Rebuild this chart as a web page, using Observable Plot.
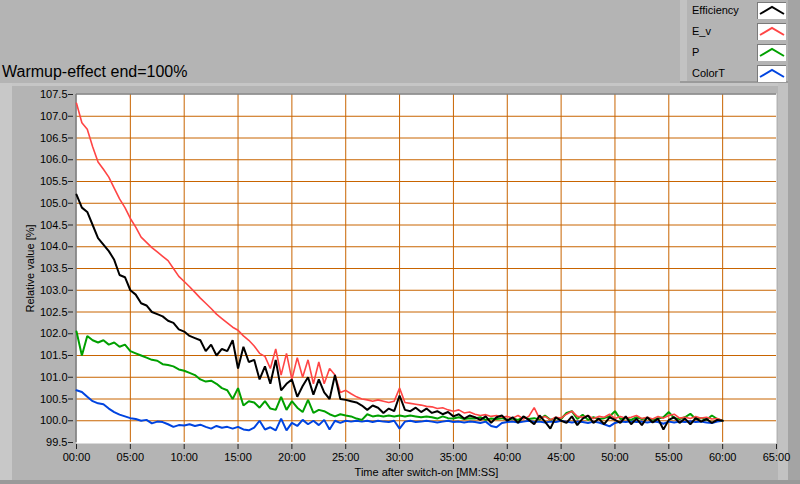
<!DOCTYPE html>
<html>
<head>
<meta charset="utf-8">
<script src="https://cdn.jsdelivr.net/npm/d3@7"></script>
<script src="https://cdn.jsdelivr.net/npm/@observablehq/plot@0.6"></script>
<style>
  body { margin: 0; background: #b4b4b4; }
  #wrap { position: relative; width: 800px; height: 484px; background: #b4b4b4; overflow: hidden; font-family: "Liberation Sans", Arial, sans-serif; }
  .deco { position: absolute; }
  #title { position: absolute; left: 2px; top: 63px; font-size: 16px; color: #000; white-space: nowrap; }
  .lg-text { position: absolute; left: 692px; font-size: 11px; color: #000; }
  .lg-box { position: absolute; left: 757px; width: 28px; height: 16px; background: #fff; border-top: 1px solid #7a7a7a; border-left: 1px solid #7a7a7a; }
  #chart { position: absolute; left: 0; top: 0; }
</style>
</head>
<body>
<div id="wrap">
  <div class="deco" style="left:0;top:83px;width:788px;height:3px;background:#c6c6c6"></div>
  <div class="deco" style="left:0;top:83px;width:12px;height:397px;background:#c8c8c8"></div>
  <div class="deco" style="left:778px;top:83px;width:10px;height:397px;background:#c2c2c2"></div>
  <div class="deco" style="left:788px;top:0;width:12px;height:484px;background:#a4a4a4"></div>
  <div class="deco" style="left:0;top:480px;width:800px;height:4px;background:#9a9a9a"></div>
  <div class="deco" style="left:680px;top:0;width:7px;height:81px;background:#c2c2c2"></div>
  <div class="deco" style="left:680px;top:81px;width:108px;height:2px;background:#9a9a9a"></div>
  <div id="title">Warmup-effect end=100%</div>
  <div id="legend"></div>
  <div id="chart"></div>
</div>
<script>
// ---- data ----
const seriesNames = ["Efficiency", "E_v", "P", "ColorT"];
const seriesColors = ["#000000", "#ff4545", "#00a000", "#0044e0"];
const minutes = d3.range(0, 60.5, 0.5); // sample times, minutes after switch-on

const efficiency = [
  105.20,104.90,104.80,104.50,104.20,104.05,103.90,103.70,103.35,103.30,
  103.00,102.90,102.70,102.65,102.50,102.45,102.40,102.30,102.25,102.10,
  102.05,101.95,101.90,101.85,101.60,101.75,101.50,101.65,101.60,101.85,
  101.20,101.70,101.35,101.40,100.95,101.25,100.85,101.40,100.70,100.85,
  100.95,100.55,100.80,101.00,100.60,100.95,100.65,100.50,101.05,100.50,
  100.48,100.45,100.42,100.35,100.25,100.35,100.30,100.18,100.28,100.22,
  100.58,100.25,100.22,100.30,100.20,100.28,100.18,100.22,100.15,100.20,
  100.10,100.15,100.05,100.12,100.08,100.02,100.10,99.95,100.08,100.12,
  100.00,100.08,99.95,100.10,100.02,99.92,100.12,99.98,99.82,100.08,
  100.00,99.95,100.10,99.90,100.05,100.12,99.95,100.05,99.92,100.08,
  100.02,99.95,100.10,99.92,100.05,99.90,100.08,99.96,100.05,99.80,
  100.02,100.08,99.95,100.05,99.92,100.06,99.98,100.04,99.95,100.02,
  100.00
];
const eV = [
  107.30,106.85,106.70,106.30,105.95,105.78,105.60,105.35,105.10,104.90,
  104.65,104.45,104.22,104.10,103.98,103.88,103.78,103.68,103.50,103.32,
  103.20,103.08,102.95,102.82,102.70,102.58,102.45,102.35,102.25,102.15,
  102.08,101.95,101.85,101.72,101.55,101.48,101.20,101.65,101.05,101.55,
  100.95,101.45,101.00,101.40,100.85,101.35,100.85,101.20,101.05,100.65,
  100.70,100.62,100.55,100.50,100.48,100.45,100.48,100.45,100.42,100.45,
  100.75,100.42,100.40,100.38,100.36,100.33,100.32,100.28,100.30,100.25,
  100.22,100.25,100.18,100.20,100.15,100.12,100.14,100.10,100.12,100.08,
  100.10,100.06,100.12,100.04,100.10,100.30,100.05,100.10,100.02,100.08,
  100.06,100.15,100.22,100.10,100.08,100.12,100.05,100.10,100.08,100.15,
  100.05,100.10,100.06,100.08,100.12,100.05,100.08,100.04,100.10,100.06,
  100.12,100.15,100.06,100.08,100.05,100.10,100.06,100.08,100.04,100.05,
  100.00
];
const power = [
  102.05,101.50,101.95,101.85,101.80,101.85,101.75,101.80,101.70,101.75,
  101.60,101.55,101.50,101.45,101.40,101.38,101.30,101.28,101.25,101.18,
  101.15,101.10,101.05,100.95,100.90,100.92,100.85,100.75,100.70,100.50,
  100.75,100.35,100.45,100.42,100.30,100.45,100.28,100.25,100.55,100.25,
  100.45,100.30,100.20,100.48,100.18,100.25,100.22,100.15,100.10,100.15,
  100.12,100.10,100.05,100.02,100.15,100.10,100.12,100.10,100.12,100.10,
  100.12,100.10,100.12,100.10,100.08,100.10,100.08,100.05,100.10,100.06,
  100.05,100.08,100.04,100.06,100.05,100.08,100.02,100.05,100.04,100.06,
  100.02,100.05,100.02,100.08,100.04,100.06,100.03,100.12,100.02,100.06,
  100.04,100.18,100.22,100.04,100.14,100.02,100.08,100.04,100.06,100.10,
  100.22,100.04,100.06,100.02,100.08,100.04,100.06,100.02,100.05,100.08,
  100.20,100.06,100.04,100.08,100.16,100.04,100.06,100.02,100.12,100.04,
  100.00
];
const colorT = [
  100.70,100.66,100.55,100.45,100.40,100.38,100.28,100.20,100.14,100.10,
  100.06,100.04,100.00,100.02,99.94,99.98,99.97,99.92,99.86,99.90,
  99.89,99.92,99.88,99.91,99.86,99.82,99.88,99.84,99.86,99.82,
  99.86,99.80,99.78,99.84,100.00,99.80,99.85,99.78,100.05,99.78,
  99.95,99.88,100.02,99.92,100.00,99.90,100.02,99.80,100.00,99.95,
  100.00,99.98,100.00,99.98,100.00,99.97,100.00,99.98,99.97,100.00,
  99.82,99.98,100.00,99.97,99.98,100.00,99.98,99.96,99.98,100.00,
  99.97,99.98,99.96,99.98,99.97,99.95,99.98,99.88,99.85,99.95,
  99.97,99.98,99.96,99.98,100.00,99.97,99.98,99.96,99.98,99.97,
  100.00,99.98,99.96,99.98,99.97,99.95,99.98,99.96,99.92,99.87,
  99.95,99.98,99.97,99.99,99.97,99.98,99.96,99.98,99.97,99.93,
  99.98,99.96,99.98,99.97,99.99,99.97,99.98,99.96,99.95,99.98,
  100.00
];
const xTicks = [0, 5, 10, 15, 20, 25, 30, 35, 40, 45, 50, 55, 60, 65];
const yTicks = [99.5, 100, 100.5, 101, 101.5, 102, 102.5, 103, 103.5, 104, 104.5, 105, 105.5, 106, 106.5, 107, 107.5];
const xLabel = "Time after switch-on [MM:SS]";
const yLabel = "Relative value [%]";

// ---- build table ----
const seriesValues = [efficiency, eV, power, colorT];
const rows = seriesNames.flatMap((name, s) =>
  minutes.map((t, i) => ({ series: name, t, v: seriesValues[s][i] })));

const fmtTime = t => String(t).padStart(2, "0") + ":00";
const ORANGE = "#c86400";
const xGrid = xTicks.slice(1, -1);
const yGrid = yTicks.slice(1, -1);

// draw order: ColorT, P, E_v, Efficiency on top
const drawOrder = [3, 2, 1, 0];
const widths = { "Efficiency": 2, "E_v": 1.6, "P": 2, "ColorT": 2 };

const W = 800, H = 484, ML = 76, MR = 24, MT = 94, MB = 42;
const frameCx = ML + (W - ML - MR) / 2;

const chart = Plot.plot({
  width: W,
  height: H,
  marginLeft: ML,
  marginRight: MR,
  marginTop: MT,
  marginBottom: MB,
  style: { background: "transparent", fontFamily: "'Liberation Sans', Arial, sans-serif", fontSize: "11px", color: "#000", overflow: "visible" },
  x: { domain: [0, 65] },
  y: { domain: [99.5, 107.5] },
  marks: [
    Plot.frame({ fill: "white", stroke: null, insetTop: -1, insetBottom: -1 }),
    Plot.ruleY(yGrid, { stroke: ORANGE, strokeWidth: 1 }),
    Plot.ruleX(xGrid, { stroke: ORANGE, strokeWidth: 1 }),
    Plot.ruleX([0], { stroke: "#7d7d7d", strokeWidth: 1.5, dx: -0.5 }),
    Plot.ruleY([107.5], { stroke: "#7d7d7d", strokeWidth: 1.5, dy: -0.5 }),
    ...drawOrder.map(s => Plot.line(rows.filter(d => d.series === seriesNames[s]), {
      x: "t", y: "v", stroke: seriesColors[s], strokeWidth: widths[seriesNames[s]], strokeLinejoin: "miter"
    })),
    Plot.axisX({ ticks: xTicks, tickFormat: fmtTime, tickSize: 5, tickPadding: 4, dy: 2, label: null, stroke: "#222" }),
    Plot.axisY({ ticks: yTicks, tickFormat: d3.format(".1f"), tickSize: 5, tickPadding: 1, dx: -3, label: null, stroke: "#222" }),
    Plot.text([xLabel], { frameAnchor: "bottom", lineAnchor: "middle", dy: 30, text: d => d, fontSize: 11, fill: "#000" }),
    Plot.text([yLabel], { frameAnchor: "middle", textAnchor: "middle", lineAnchor: "middle", dx: 30 - frameCx, rotate: -90, text: d => d, fontSize: 11, fill: "#000" })
  ]
});
document.getElementById("chart").appendChild(chart);

// ---- legend (HTML + small inline svg swatches) ----
const legend = document.getElementById("legend");
seriesNames.forEach((name, i) => {
  const top = 2 + i * 21;
  const txt = document.createElement("div");
  txt.className = "lg-text";
  txt.style.top = (top + 2) + "px";
  txt.textContent = name;
  legend.appendChild(txt);
  const box = document.createElement("div");
  box.className = "lg-box";
  box.style.top = top + "px";
  box.innerHTML = `<svg width="28" height="16"><polyline points="2,11 14,4 26,11" fill="none" stroke="${seriesColors[i]}" stroke-width="2"/></svg>`;
  legend.appendChild(box);
});
</script>
</body>
</html>
